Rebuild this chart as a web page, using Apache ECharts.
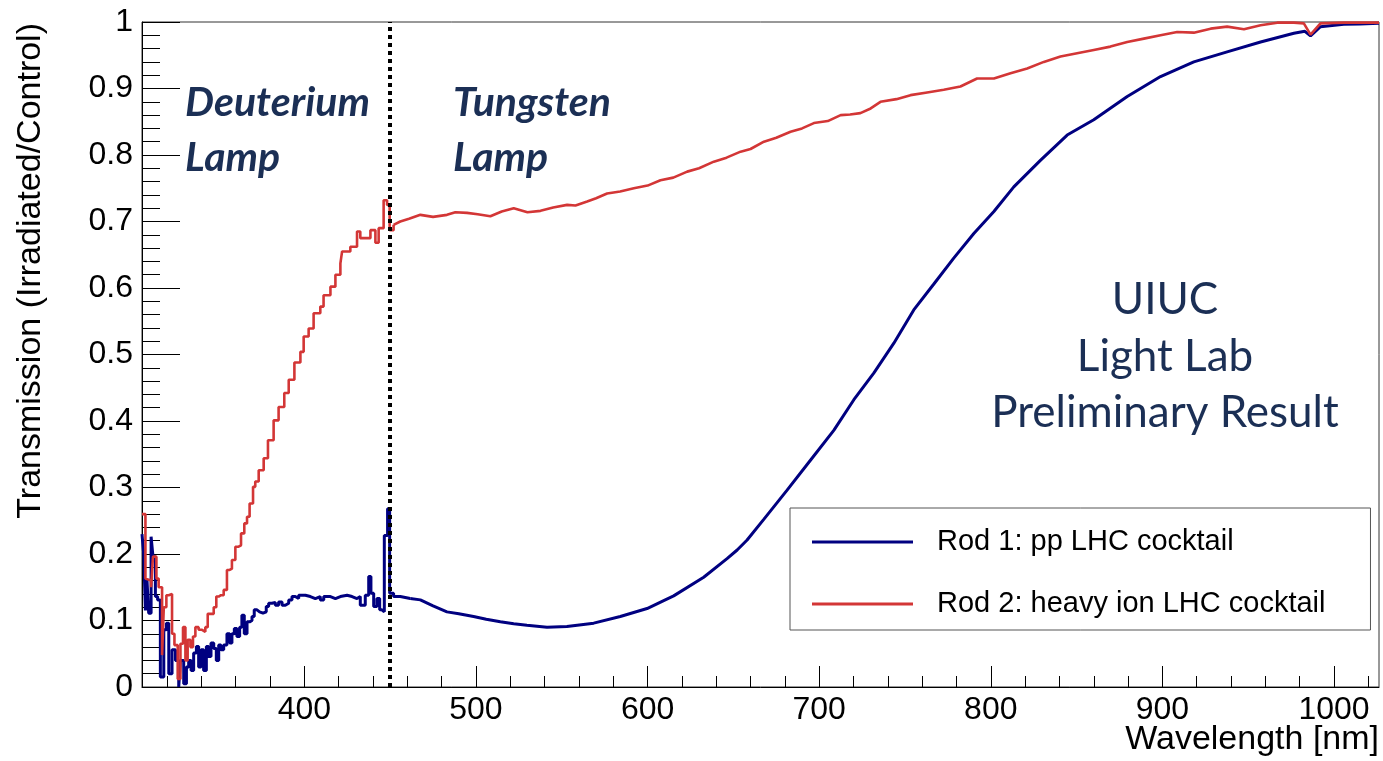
<!DOCTYPE html>
<html>
<head>
<meta charset="utf-8">
<script src="https://cdn.jsdelivr.net/npm/echarts@6/dist/echarts.min.js"></script>
<style>html,body{margin:0;padding:0;background:#fff}#c{width:1383px;height:761px}</style>
</head>
<body>
<div id="c"></div>
<script>
// ---- data ----
const seriesNames = ['Rod 1: pp LHC cocktail', 'Rod 2: heavy ion LHC cocktail'];
const xMajorTicks = [400, 500, 600, 700, 800, 900, 1000];
const xMinorTicks = [320,340,360,380,420,440,460,480,520,540,560,580,620,640,660,680,720,740,760,780,820,840,860,880,920,940,960,980,1020];
const dividerWl = 450;
const lampLabels = ['Deuterium\nLamp', 'Tungsten\nLamp'];
const stampLines = ['UIUC', 'Light Lab', 'Preliminary Result'];

// Rod 1 (blue) - noisy deuterium part, histogram bins (left edge, value)
const blueStepWl = [305.4,306.4,307.4,308.3,309.3,310.7,311.8,313.2,314.5,316.1,318.1,319.6,321,322.9,324.9,326.8,327.8,329.7,331.3,332.6,334,335.5,337.1,338.4,339.8,341.3,342.9,344.2,345.6,347.2,348.7,350.1,351.4,353,354.9,356.5,357.8,359.2,360.7,362.3,363.6,365,366.6,368.1,369.5,370.8,372.4,373.9,375.9,377.8,379.2,381.1,383.1,385,387,388.9,390.9,392.8,394.7,396.7,398.6,400.6,403.5,406.4,409.3,411.3,415.2,418.1,421,424.9,427.8,430.7,432.6,435.5,437.5,438.8,440.4,442.3,443.9,445.2,446.6,448.5,449.7,452,455.9,461.7];
const blueStepT = [0.23,0.2,0.115,0.161,0.111,0.226,0.196,0.136,0.131,0.015,0.086,0.096,0.02,0.056,0.04,0.0,0.04,0.005,0.03,0.04,0.025,0.051,0.061,0.03,0.056,0.025,0.061,0.046,0.066,0.058,0.04,0.063,0.056,0.063,0.08,0.066,0.08,0.088,0.076,0.09,0.108,0.08,0.098,0.1,0.106,0.116,0.113,0.111,0.113,0.121,0.126,0.127,0.123,0.128,0.123,0.126,0.131,0.136,0.133,0.138,0.138,0.136,0.133,0.136,0.131,0.136,0.133,0.136,0.138,0.136,0.133,0.136,0.123,0.138,0.166,0.141,0.121,0.133,0.116,0.113,0.228,0.268,0.141,0.136,0.133,0.133];
// Rod 1 (blue) - tungsten part
const blueWl = [461.7,467.6,475,483.1,490,498.6,506,514.2,522,529.7,541.4,553,568.6,584.1,599.7,609.4,615.2,632.7,646.3,652.2,658,667.7,681.3,694.9,708.5,720.2,731.8,743.5,755.1,766.8,778.4,790.1,801.8,813.4,828.9,844.5,860,879.5,898.9,918.3,937.7,957.2,976.6,983,986.3,992.1,1005.7,1015,1026.2];
const blueT = [0.133,0.131,0.122,0.113,0.11,0.106,0.102,0.098,0.095,0.093,0.09,0.091,0.096,0.106,0.118,0.13,0.137,0.165,0.193,0.206,0.221,0.252,0.296,0.341,0.386,0.432,0.472,0.517,0.567,0.606,0.645,0.682,0.715,0.752,0.792,0.830,0.853,0.888,0.918,0.940,0.955,0.970,0.983,0.986,0.979,0.993,0.9965,0.997,0.998];

// Rod 2 (red) - deuterium part, histogram bins (left edge, value)
const redStepWl = [305.4,307.4,308.3,310.7,311.8,313.8,315.1,317.1,318.1,319.6,321,322.9,324.3,326.2,327.8,329.3,330.7,332,333.6,335.1,336.5,338.4,340.4,342.3,343.7,345.2,347.2,348.7,350.1,351.4,353,354.9,356.5,357.8,359.8,361.7,363.1,365,366.6,368.1,370.1,371.4,373.4,376.3,378.8,382.1,385,388.3,390.9,394.2,397.7,399.6,402.5,405.4,409.3,411.2,415.2,418.1,421,422,426.8,430.7,432.6,438.5,441.4,443.3,446.2,448.2,449.7,452];
const redStepT = [0.26,0.163,0.16,0.15,0.196,0.163,0.15,0.048,0.12,0.138,0.14,0.08,0.063,0.012,0.065,0.09,0.04,0.071,0.06,0.076,0.09,0.086,0.083,0.09,0.11,0.11,0.12,0.136,0.138,0.138,0.146,0.176,0.178,0.191,0.211,0.213,0.231,0.246,0.256,0.276,0.301,0.309,0.326,0.344,0.371,0.401,0.421,0.442,0.462,0.488,0.504,0.527,0.539,0.562,0.572,0.589,0.602,0.620,0.637,0.655,0.662,0.685,0.675,0.687,0.668,0.690,0.732,0.725,0.687,0.695];
// Rod 2 (red) - tungsten part
const redWl = [452,455.9,461,467.6,475,483.1,488,494.8,501,508.4,515,522,530,537.6,545,553.1,558,564.8,570,576.4,584,592,600,607.5,615,623.1,630,638.6,646,654.2,660,667.8,675,683.3,690,696.9,705,712.5,718,724,730,735.7,745,753.2,762.9,772.6,782.3,792,801.8,811.5,821.2,830.9,840.6,850.3,860,869.7,879.5,889.2,898.9,908.6,918.3,928.1,937.7,947.5,957.2,966.9,976.6,982.4,986.3,992.1,1005.7,1026.2];
const redT = [0.695,0.700,0.704,0.710,0.707,0.710,0.714,0.713,0.711,0.708,0.715,0.720,0.714,0.716,0.721,0.725,0.724,0.730,0.735,0.742,0.745,0.750,0.754,0.762,0.766,0.775,0.780,0.790,0.796,0.805,0.809,0.820,0.826,0.835,0.840,0.848,0.851,0.860,0.861,0.863,0.870,0.880,0.884,0.890,0.894,0.898,0.903,0.915,0.915,0.923,0.930,0.940,0.948,0.953,0.958,0.963,0.970,0.975,0.980,0.985,0.984,0.990,0.993,0.989,0.995,0.999,0.999,0.998,0.981,0.998,0.999,0.999];

const xMin = 305.4, xMax = 1026.2;
const BLUE = '#000080', RED = '#d33636', NAVY = '#1b2f55';
const zip = (a, b) => a.map((v, i) => [v, b[i]]);
const AX_FONT = '"Liberation Sans", Arial, sans-serif';

const chart = echarts.init(document.getElementById('c'), null, {renderer: 'canvas'});
const option = {
  animation: false,
  backgroundColor: '#fff',
  grid: {left: 142, right: 4, top: 22, bottom: 74, show: true, borderColor: '#333', borderWidth: 1, backgroundColor: 'transparent'},
  xAxis: [
    {
      type: 'value', min: xMin, max: xMax, position: 'bottom',
      axisLine: {show: true, lineStyle: {color: '#000', width: 1}},
      axisTick: {show: true, inside: true, length: 21, customValues: xMajorTicks, lineStyle: {color: '#000'}},
      axisLabel: {show: true, customValues: xMajorTicks, fontSize: 32, fontFamily: AX_FONT, color: '#000', margin: 7, formatter: v => String(v)},
      splitLine: {show: false}
    },
    {
      type: 'value', min: xMin, max: xMax, position: 'bottom',
      axisLine: {show: false},
      axisTick: {show: true, inside: true, length: 11, customValues: xMinorTicks, lineStyle: {color: '#000'}},
      axisLabel: {show: false},
      splitLine: {show: false}
    }
  ],
  yAxis: {
    type: 'value', min: 0, max: 1, interval: 0.1,
    axisLine: {show: true, lineStyle: {color: '#000', width: 1}},
    axisTick: {show: true, inside: true, length: 38, lineStyle: {color: '#000'}},
    minorTick: {show: true, splitNumber: 5, length: 18, lineStyle: {color: '#000'}},
    axisLabel: {fontSize: 32, fontFamily: AX_FONT, color: '#000', margin: 9},
    splitLine: {show: false}
  },
  legend: {
    data: seriesNames, orient: 'vertical', left: 790, top: 508,
    padding: [19, 45, 11, 22], itemGap: 32, itemWidth: 101, itemHeight: 3, icon: 'rect',
    backgroundColor: '#fff', borderColor: '#555', borderWidth: 1, selectedMode: false,
    textStyle: {fontFamily: AX_FONT, fontSize: 29, color: '#000', lineHeight: 30, padding: [0, 0, 0, 19]}
  },
  series: [
    {name: seriesNames[0], type: 'line', step: 'end', symbol: 'none', color: BLUE, data: zip(blueStepWl, blueStepT), lineStyle: {color: BLUE, width: 3}, z: 2},
    {name: seriesNames[0], type: 'line', symbol: 'none', color: BLUE, data: zip(blueWl, blueT), lineStyle: {color: BLUE, width: 3}, z: 2},
    {name: seriesNames[1], type: 'line', step: 'end', symbol: 'none', color: RED, data: zip(redStepWl, redStepT), lineStyle: {color: RED, width: 2.6}, z: 3},
    {name: seriesNames[1], type: 'line', symbol: 'none', color: RED, data: zip(redWl, redT), lineStyle: {color: RED, width: 2.6}, z: 3},
    {type: 'line', data: [], z: 5, silent: true,
      markLine: {silent: true, symbol: ['none', 'none'], label: {show: false},
        lineStyle: {color: '#000', width: 4, type: [4, 4]},
        data: [{xAxis: dividerWl}]}}
  ],
  graphic: [
    {type: 'text', x: 31, y: 23, rotation: Math.PI / 2, style: {text: 'Transmission (Irradiated/Control)', font: '34px "Liberation Sans", Arial, sans-serif', fill: '#000', align: 'right', verticalAlign: 'middle'}},
    {type: 'text', x: 1379, y: 740, style: {text: 'Wavelength [nm]', font: '34px "Liberation Sans", Arial, sans-serif', fill: '#000', align: 'right', verticalAlign: 'middle'}},
    {type: 'text', x: 185, y: 130, style: {text: lampLabels[0], font: 'italic bold 41px Lato, sans-serif', fill: NAVY, align: 'left', verticalAlign: 'middle', lineHeight: 55}},
    {type: 'text', x: 453, y: 130, style: {text: lampLabels[1], font: 'italic bold 41px Lato, sans-serif', fill: NAVY, align: 'left', verticalAlign: 'middle', lineHeight: 55}},
    {type: 'text', x: 1165, y: 300, style: {text: stampLines[0], font: '44px Lato, sans-serif', fill: NAVY, align: 'center', verticalAlign: 'middle'}},
    {type: 'text', x: 1165, y: 357, style: {text: stampLines[1], font: '44px Lato, sans-serif', fill: NAVY, align: 'center', verticalAlign: 'middle'}},
    {type: 'text', x: 1165, y: 413, style: {text: stampLines[2], font: '44px Lato, sans-serif', fill: NAVY, align: 'center', verticalAlign: 'middle'}}
  ]
};
chart.setOption(option);
</script>
</body>
</html>
